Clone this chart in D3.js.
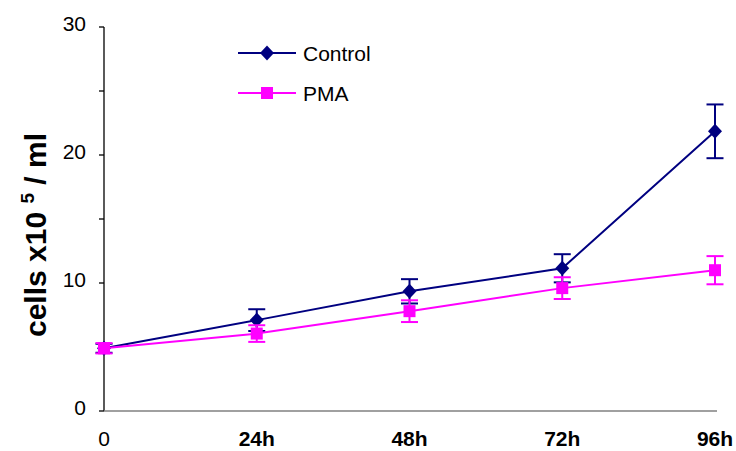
<!DOCTYPE html>
<html>
<head>
<meta charset="utf-8">
<script src="https://cdn.jsdelivr.net/npm/d3@7"></script>
<style>
  body { margin: 0; background: #fff; }
  svg { display: block; font-family: "Liberation Sans", Arial, sans-serif; }
</style>
</head>
<body>
<svg id="chart" width="736" height="451"></svg>
<script>
// Time points
const categories = ["0", "24h", "48h", "72h", "96h"];
// Cell counts (x10^5 / ml) and their error bars
const controlValues = [4.9, 7.1, 9.35, 11.15, 21.85];
const controlErrors = [0.35, 0.85, 0.95, 1.1, 2.1];
const pmaValues = [4.9, 6.05, 7.8, 9.6, 11.0];
const pmaErrors = [0.4, 0.65, 0.85, 0.85, 1.1];
const seriesNames = ["Control", "PMA"];
const yTicks = [0, 10, 20, 30];

const series = [
  { name: seriesNames[0], values: controlValues, errors: controlErrors, color: "#000080", shape: "diamond" },
  { name: seriesNames[1], values: pmaValues, errors: pmaErrors, color: "#FF00FF", shape: "square" }
];

const svg = d3.select("#chart");
const x = d3.scalePoint().domain(categories).range([104, 715]);
const y = d3.scaleLinear().domain([0, 30]).range([411, 27]);

// Y axis with minor ticks at every 5
const yAxis = svg.append("g").attr("transform", "translate(104,0)");
yAxis.append("line").attr("x1", 0).attr("x2", 0).attr("y1", y(30)).attr("y2", y(0))
  .attr("stroke", "#000").attr("stroke-width", 1.3);
yAxis.selectAll("line.tick").data(d3.range(0, 31, 5)).join("line")
  .attr("class", "tick")
  .attr("x1", -5).attr("x2", 0)
  .attr("y1", d => y(d)).attr("y2", d => y(d))
  .attr("stroke", "#000").attr("stroke-width", 1.3);
yAxis.selectAll("text").data(yTicks).join("text")
  .attr("x", -18).attr("y", d => y(d) + 4)
  .attr("text-anchor", "end")
  .attr("font-size", 21)
  .text(d => d);

// X axis
svg.append("line").attr("x1", x(categories[0])).attr("x2", 717)
  .attr("y1", y(0)).attr("y2", y(0))
  .attr("stroke", "#808080").attr("stroke-width", 1.3);
svg.selectAll("text.xlab").data(categories).join("text")
  .attr("class", "xlab")
  .attr("x", d => x(d)).attr("y", 446)
  .attr("text-anchor", "middle")
  .attr("font-size", 21)
  .attr("font-weight", (d, i) => i === 0 ? "normal" : "bold")
  .text(d => d);

// Y axis title
const title = svg.append("text")
  .attr("transform", "translate(46,235) rotate(-90)")
  .attr("text-anchor", "middle")
  .attr("font-size", 30)
  .attr("font-weight", "bold");
title.append("tspan").text("cells x10 ");
title.append("tspan").attr("font-size", 19).attr("dy", -12).text("5");
title.append("tspan").attr("dy", 12).text(" / ml");

function drawMarker(g, shape, color, cx, cy) {
  if (shape === "diamond") {
    g.append("path")
      .attr("d", `M${cx},${cy - 7.5}L${cx + 7},${cy}L${cx},${cy + 7.5}L${cx - 7},${cy}Z`)
      .attr("fill", color);
  } else {
    g.append("rect")
      .attr("x", cx - 6).attr("y", cy - 6)
      .attr("width", 12).attr("height", 12)
      .attr("fill", color);
  }
}

// Control first, PMA drawn over it
series.forEach(s => {
  const g = svg.append("g");
  const line = d3.line().x((d, i) => x(categories[i])).y(d => y(d));
  g.append("path").datum(s.values)
    .attr("d", line)
    .attr("fill", "none")
    .attr("stroke", s.color)
    .attr("stroke-width", 2);
  s.values.forEach((v, i) => {
    const cx = x(categories[i]);
    const e = s.errors[i];
    g.append("line").attr("x1", cx).attr("x2", cx)
      .attr("y1", y(v + e)).attr("y2", y(v - e))
      .attr("stroke", s.color).attr("stroke-width", 2);
    [v + e, v - e].forEach(t => {
      g.append("line").attr("x1", cx - 8.5).attr("x2", cx + 8.5)
        .attr("y1", y(t)).attr("y2", y(t))
        .attr("stroke", s.color).attr("stroke-width", 2);
    });
    drawMarker(g, s.shape, s.color, cx, y(v));
  });
});

// Legend
const legend = svg.append("g");
series.forEach((s, i) => {
  const ly = 53 + i * 40;
  legend.append("line").attr("x1", 238).attr("x2", 296)
    .attr("y1", ly).attr("y2", ly)
    .attr("stroke", s.color).attr("stroke-width", 2);
  drawMarker(legend, s.shape, s.color, 267, ly);
  legend.append("text").attr("x", 303).attr("y", ly + 8)
    .attr("font-size", 21).text(s.name);
});
</script>
</body>
</html>
